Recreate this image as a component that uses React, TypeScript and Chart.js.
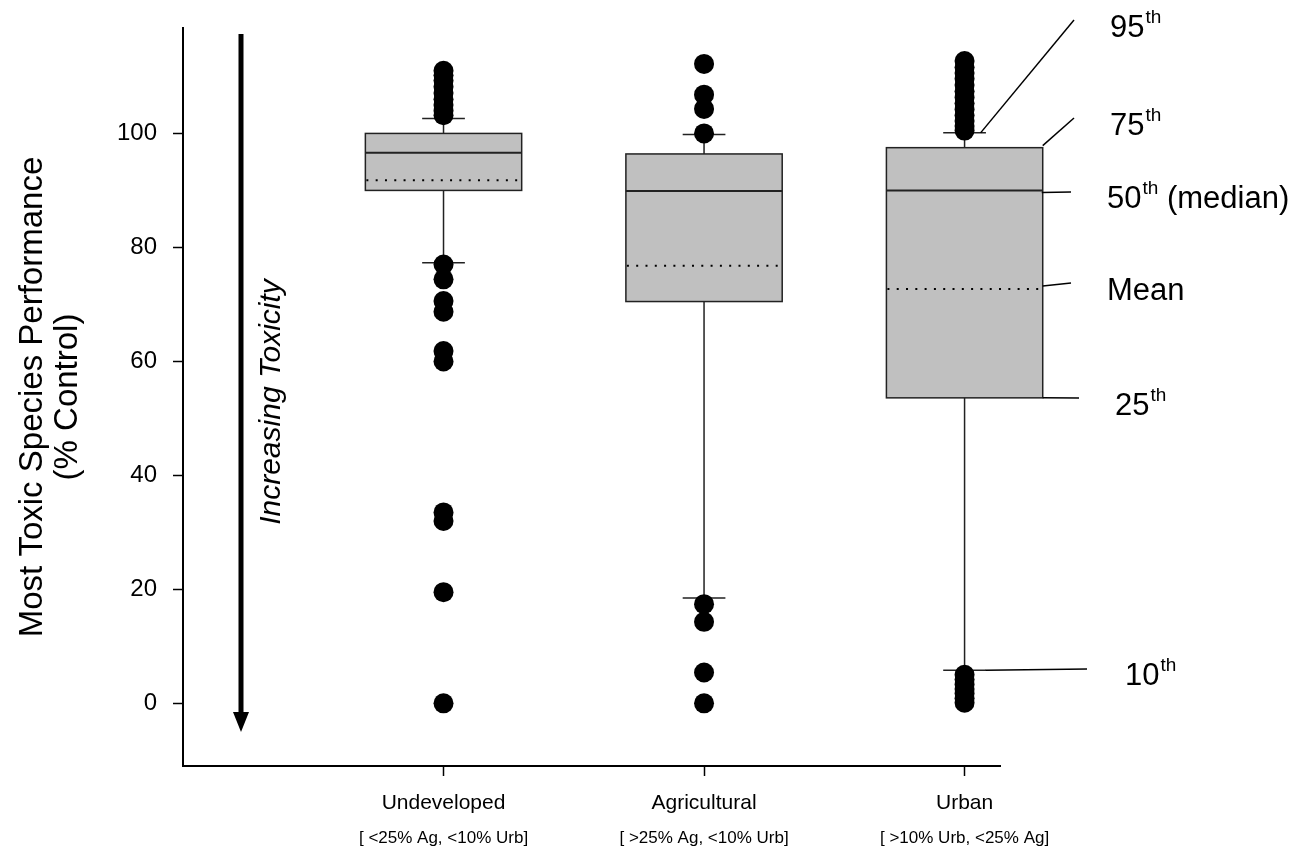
import React, { useEffect, useRef } from "react";
import { Chart, registerables } from "chart.js";

Chart.register(...registerables);

// ---- data ----
const categories = ["Undeveloped", "Agricultural", "Urban"];
const subLabels = ["[ <25% Ag, <10% Urb]", "[ >25% Ag, <10% Urb]", "[ >10% Urb, <25% Ag]"];
const categoryX = [1, 2, 3];

const p10 = [77.3, 18.5, 5.8];
const q1 = [90.0, 70.5, 53.6];
const median = [96.6, 89.9, 90.0];
const q3 = [100.0, 96.4, 97.5];
const p95 = [102.6, 99.8, 100.1];
const mean = [91.8, 76.8, 72.7];

const outliersUndeveloped = [111.0, 110.2, 109.3, 108.2, 107.1, 106.0, 105.0, 104.0, 103.2, 77.0, 74.4, 70.6, 68.7, 61.8, 60.0, 33.5, 32.0, 19.5, 0.0];
const outliersAgricultural = [112.2, 106.8, 104.3, 100.0, 17.4, 14.3, 5.4, 0.0];
const outliersUrban = [112.7, 111.6, 110.6, 109.6, 108.5, 107.4, 106.3, 105.3, 104.2, 103.2, 102.2, 101.3, 100.5, 5.0, 4.2, 3.3, 2.5, 1.7, 0.9, 0.1];

const yTicks = [0, 20, 40, 60, 80, 100];

const annoMain = ["95", "75", "50", "Mean", "25", "10"];
const annoSup = ["th", "th", "th", "", "th", "th"];
const annoRest = ["", "", " (median)", "", "", ""];

const FONT = "'Liberation Sans', Arial, Helvetica, sans-serif";

export default function App() {
  const canvasRef = useRef<HTMLCanvasElement | null>(null);

  useEffect(() => {
    const canvas = canvasRef.current;
    if (!canvas) return;
    Chart.defaults.font.family = FONT;
    Chart.defaults.color = "#000";

    const boxPlugin = {
      id: "boxPlugin",
      beforeDatasetsDraw(chart: any) {
        const { ctx } = chart;
        const x = chart.scales.x;
        const y = chart.scales.y;
        ctx.save();
        for (let i = 0; i < categoryX.length; i++) {
          const c = categoryX[i];
          const cx = x.getPixelForValue(c);
          const l = x.getPixelForValue(c - 0.3);
          const r = x.getPixelForValue(c + 0.3);
          const capL = x.getPixelForValue(c - 0.082);
          const capR = x.getPixelForValue(c + 0.082);
          const yq1 = y.getPixelForValue(q1[i]);
          const yq3 = y.getPixelForValue(q3[i]);
          const ymed = y.getPixelForValue(median[i]);
          const ymean = y.getPixelForValue(mean[i]);
          const yhi = y.getPixelForValue(p95[i]);
          const ylo = y.getPixelForValue(p10[i]);

          ctx.strokeStyle = "#222";
          ctx.lineWidth = 1.5;
          ctx.setLineDash([]);
          ctx.beginPath();
          ctx.moveTo(cx, yq3); ctx.lineTo(cx, yhi);
          ctx.moveTo(capL, yhi); ctx.lineTo(capR, yhi);
          ctx.moveTo(cx, yq1); ctx.lineTo(cx, ylo);
          ctx.moveTo(capL, ylo); ctx.lineTo(capR, ylo);
          ctx.stroke();

          ctx.fillStyle = "#c0c0c0";
          ctx.fillRect(l, yq3, r - l, yq1 - yq3);
          ctx.strokeStyle = "#222";
          ctx.lineWidth = 1.5;
          ctx.strokeRect(l, yq3, r - l, yq1 - yq3);

          ctx.lineWidth = 2;
          ctx.beginPath();
          ctx.moveTo(l, ymed); ctx.lineTo(r, ymed);
          ctx.stroke();

          ctx.strokeStyle = "#000";
          ctx.lineWidth = 2;
          ctx.setLineDash([2, 7.3]);
          ctx.beginPath();
          ctx.moveTo(l + 1, ymean); ctx.lineTo(r, ymean);
          ctx.stroke();
          ctx.setLineDash([]);
        }
        ctx.restore();
      },
      afterDraw(chart: any) {
        const { ctx } = chart;
        const x = chart.scales.x;
        const y = chart.scales.y;
        const u = categoryX.length - 1;
        const cx = x.getPixelForValue(categoryX[u]);
        const right = x.getPixelForValue(categoryX[u] + 0.3);
        ctx.save();

        // sub labels
        ctx.fillStyle = "#000";
        ctx.font = `17px ${FONT}`;
        ctx.textAlign = "center";
        ctx.textBaseline = "middle";
        for (let i = 0; i < categoryX.length; i++) {
          ctx.fillText(subLabels[i], x.getPixelForValue(categoryX[i]), 838);
        }

        // arrow
        ctx.strokeStyle = "#000";
        ctx.lineWidth = 5;
        ctx.beginPath();
        ctx.moveTo(241, 34);
        ctx.lineTo(241, 714);
        ctx.stroke();
        ctx.beginPath();
        ctx.moveTo(233, 712);
        ctx.lineTo(249, 712);
        ctx.lineTo(241, 732);
        ctx.closePath();
        ctx.fill();

        // Increasing Toxicity
        ctx.save();
        ctx.translate(272, 402);
        ctx.rotate(-Math.PI / 2);
        ctx.font = `italic 30px ${FONT}`;
        ctx.textAlign = "center";
        ctx.textBaseline = "middle";
        ctx.fillText("Increasing Toxicity", 0, 0);
        ctx.restore();

        // annotation leader lines
        const starts = [
          [cx + 16, y.getPixelForValue(p95[u])],
          [right, y.getPixelForValue(q3[u]) - 2],
          [right - 1, y.getPixelForValue(median[u]) + 2],
          [right, y.getPixelForValue(mean[u]) - 3],
          [right, y.getPixelForValue(q1[u])],
          [cx + 21, y.getPixelForValue(p10[u])],
        ];
        const ends = [
          [1074, 20],
          [1074, 118],
          [1071, 192],
          [1071, 283],
          [1079, 398],
          [1087, 669],
        ];
        ctx.strokeStyle = "#000";
        ctx.lineWidth = 1.5;
        for (let k = 0; k < starts.length; k++) {
          ctx.beginPath();
          ctx.moveTo(starts[k][0], starts[k][1]);
          ctx.lineTo(ends[k][0], ends[k][1]);
          ctx.stroke();
        }

        // annotation texts
        const pos = [
          [1110, 37],
          [1110, 135],
          [1107, 208],
          [1107, 300],
          [1115, 415],
          [1125, 685],
        ];
        ctx.textAlign = "left";
        ctx.textBaseline = "alphabetic";
        for (let k = 0; k < annoMain.length; k++) {
          let px = pos[k][0];
          const py = pos[k][1];
          ctx.font = `31px ${FONT}`;
          ctx.fillText(annoMain[k], px, py);
          px += ctx.measureText(annoMain[k]).width;
          if (annoSup[k]) {
            ctx.font = `19px ${FONT}`;
            ctx.fillText(annoSup[k], px + 1, py - 14);
            px += ctx.measureText(annoSup[k]).width + 1;
          }
          if (annoRest[k]) {
            ctx.font = `31px ${FONT}`;
            ctx.fillText(annoRest[k], px, py);
          }
        }
        ctx.restore();
      },
    };

    const mk = (c: number, vals: number[]) => vals.map((v) => ({ x: c, y: v }));

    const chart = new Chart(canvas, {
      type: "scatter",
      data: {
        datasets: [
          { label: categories[0], data: mk(categoryX[0], outliersUndeveloped) },
          { label: categories[1], data: mk(categoryX[1], outliersAgricultural) },
          { label: categories[2], data: mk(categoryX[2], outliersUrban) },
        ].map((d) => ({
          ...d,
          pointRadius: 10,
          pointHoverRadius: 10,
          pointBackgroundColor: "#000",
          pointBorderWidth: 0,
          pointBorderColor: "#000",
        })),
      },
      options: {
        animation: false,
        responsive: false,
        devicePixelRatio: 1,
        layout: { padding: { left: 0, top: 28, right: 306, bottom: 0 } },
        plugins: {
          legend: { display: false },
          tooltip: { enabled: false },
          title: { display: false },
        },
        scales: {
          x: {
            type: "linear",
            min: 0,
            max: 3.136,
            afterBuildTicks: (scale: any) => {
              scale.ticks = categoryX.map((v) => ({ value: v }));
            },
            afterFit: (scale: any) => {
              scale.height = 93;
              scale.paddingLeft = 0;
              scale.paddingRight = 0;
              scale.paddingTop = 0;
              scale.paddingBottom = 0;
            },
            ticks: {
              autoSkip: false,
              maxRotation: 0,
              minRotation: 0,
              padding: 15,
              font: { size: 21, family: FONT },
              color: "#000",
              callback: (value: any) => {
                const idx = categoryX.indexOf(Number(value));
                return idx >= 0 ? categories[idx] : "";
              },
            },
            grid: {
              display: true,
              drawOnChartArea: false,
              drawTicks: true,
              tickLength: 10,
              tickColor: "#000",
              tickWidth: 1.5,
            },
            border: { display: true, color: "#000", width: 2 },
          },
          y: {
            type: "linear",
            min: -11,
            max: 118.5,
            afterBuildTicks: (scale: any) => {
              scale.ticks = yTicks.map((v) => ({ value: v }));
            },
            afterFit: (scale: any) => {
              scale.width = 183;
              scale.paddingLeft = 0;
              scale.paddingRight = 0;
              scale.paddingTop = 0;
              scale.paddingBottom = 0;
            },
            ticks: {
              padding: 16,
              font: { size: 24, family: FONT },
              color: "#000",
            },
            grid: {
              display: true,
              drawOnChartArea: false,
              drawTicks: true,
              tickLength: 10,
              tickColor: "#000",
              tickWidth: 1.5,
            },
            border: { display: true, color: "#000", width: 2 },
            title: {
              display: true,
              text: ["Most Toxic Species Performance", "(% Control)"],
              font: { size: 33, family: FONT, lineHeight: 1.05 },
              color: "#000",
              padding: { top: 16, bottom: 0 },
            },
          },
        },
      },
      plugins: [boxPlugin],
    } as any);

    return () => {
      chart.destroy();
    };
  }, []);

  return (
    <div style={{ position: "absolute", left: 0, top: 0, width: 1306, height: 859, background: "#fff" }}>
      <canvas ref={canvasRef} width={1306} height={859} style={{ display: "block" }} />
    </div>
  );
}
